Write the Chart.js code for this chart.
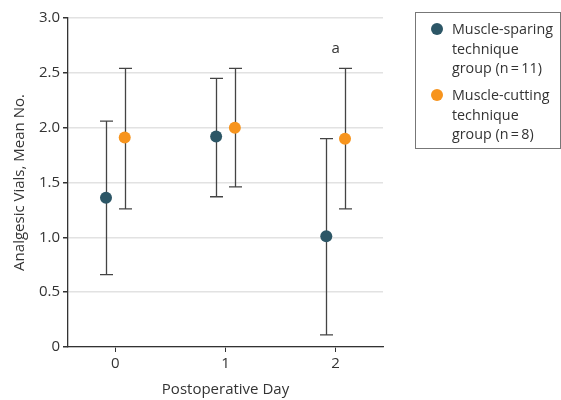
<!DOCTYPE html>
<html>
<head>
<meta charset="utf-8">
<script src="https://cdn.jsdelivr.net/npm/chart.js@4.4.1/dist/chart.umd.min.js"></script>
<style>
    html, body {
        margin: 0;
        padding: 0;
        background: #fff;
    }
    #wrap {
        position: relative;
        width: 561px;
        height: 400px;
        font-family: "Open Sans", sans-serif;
        color: #333;
    }
    #legend {
        position: absolute;
        left: 415px;
        top: 12px;
        width: 144px;
        height: 135px;
        border: 1px solid #777;
        font-size: 14.3px;
        line-height: 19.5px;
    }
    .item {
        position: absolute;
        left: 36px;
    }
    .dot {
        position: absolute;
        left: -21px;
        top: 4px;
        width: 12px;
        height: 12px;
        border-radius: 50%;
    }
</style>
</head>
<body>
<div id="wrap">
    <canvas id="chart" width="561" height="400"></canvas>
    <div id="legend"></div>
</div>

<script>
// ==========================
// DATA
// ==========================

const days = [0, 1, 2];
const seriesNames = [
    ["Muscle-sparing", "technique", "group (n\u2009=\u200911)"],
    ["Muscle-cutting", "technique", "group (n\u2009=\u20098)"]
];
const seriesColors = ["#2c5666", "#f7941d"];
const seriesOffsets = [-0.085, 0.085];

const sparingMean = [1.36, 1.92, 1.01];
const sparingLow = [0.66, 1.37, 0.11];
const sparingHigh = [2.06, 2.45, 1.90];

const cuttingMean = [1.91, 2.00, 1.90];
const cuttingLow = [1.26, 1.46, 1.26];
const cuttingHigh = [2.54, 2.54, 2.54];

const yTicks = [0, 0.5, 1.0, 1.5, 2.0, 2.5, 3.0];

const noteText = ["a"];
const noteDay = [2];
const noteValue = [2.72];

const means = [sparingMean, cuttingMean];
const lows = [sparingLow, cuttingLow];
const highs = [sparingHigh, cuttingHigh];

const FONT = "'Open Sans', sans-serif";


// ==========================
// PLUGINS
// ==========================

const errorBars = {
    id: "errorBars",
    beforeDatasetsDraw(chart) {
        const c = chart.ctx;
        const xs = chart.scales.x;
        const ys = chart.scales.y;
        c.save();
        c.strokeStyle = "#444";
        c.lineWidth = 1.3;
        means.forEach((m, s) => {
            m.forEach((v, i) => {
                const x = Math.round(xs.getPixelForValue(days[i] + seriesOffsets[s])) + 0.5;
                const y1 = ys.getPixelForValue(lows[s][i]);
                const y2 = ys.getPixelForValue(highs[s][i]);
                c.beginPath();
                c.moveTo(x, y1);
                c.lineTo(x, y2);
                c.moveTo(x - 6.5, y1);
                c.lineTo(x + 6.5, y1);
                c.moveTo(x - 6.5, y2);
                c.lineTo(x + 6.5, y2);
                c.stroke();
            });
        });
        c.restore();
    },
    afterDatasetsDraw(chart) {
        const c = chart.ctx;
        const xs = chart.scales.x;
        const ys = chart.scales.y;
        c.save();
        c.fillStyle = "#333";
        c.font = "15px " + FONT;
        c.textAlign = "center";
        c.textBaseline = "middle";
        noteText.forEach((t, i) => {
            c.fillText(t, xs.getPixelForValue(noteDay[i]), ys.getPixelForValue(noteValue[i]));
        });
        c.restore();
    }
};


// ==========================
// CHART
// ==========================

const datasets = means.map((m, s) => ({
    label: seriesNames[s].join(" "),
    data: m.map((v, i) => ({ x: days[i] + seriesOffsets[s], y: v })),
    backgroundColor: seriesColors[s],
    borderColor: seriesColors[s],
    pointRadius: 6,
    pointBorderWidth: 0,
    showLine: false
}));

new Chart(document.getElementById("chart"), {
    type: "scatter",
    data: { datasets: datasets },
    plugins: [errorBars],
    options: {
        responsive: false,
        animation: false,
        layout: {
            padding: { top: 18, right: 178, left: 0, bottom: 0 }
        },
        plugins: {
            legend: { display: false },
            tooltip: { enabled: false }
        },
        scales: {
            x: {
                type: "linear",
                min: -0.43,
                max: 2.43,
                afterBuildTicks: scale => {
                    scale.ticks = days.map(v => ({ value: v }));
                },
                afterFit: scale => {
                    scale.height = 53;
                },
                grid: {
                    drawOnChartArea: false,
                    drawTicks: true,
                    tickLength: 5,
                    tickColor: "#333"
                },
                border: { display: true, color: "#333", width: 1.3 },
                ticks: {
                    color: "#333",
                    font: { family: FONT, size: 15 },
                    padding: 3
                },
                title: {
                    display: true,
                    text: "Postoperative Day",
                    color: "#333",
                    font: { family: FONT, size: 15 },
                    padding: { top: 6, bottom: 1 }
                }
            },
            y: {
                min: 0,
                max: 3,
                afterBuildTicks: scale => {
                    scale.ticks = yTicks.map(v => ({ value: v }));
                },
                afterFit: scale => {
                    scale.width = 68;
                },
                grid: {
                    color: "#e2e2e2",
                    lineWidth: 1.5,
                    drawTicks: true,
                    tickLength: 5,
                    tickColor: "#333"
                },
                border: { display: true, color: "#333", width: 1.3 },
                ticks: {
                    color: "#333",
                    font: { family: FONT, size: 15 },
                    padding: 3,
                    callback: v => v === 0 ? "0" : v.toFixed(1)
                },
                title: {
                    display: true,
                    text: "Analgesic Vials, Mean No.",
                    color: "#333",
                    font: { family: FONT, size: 15 },
                    padding: { top: 11, bottom: 4 }
                }
            }
        }
    }
});


// ==========================
// LEGEND
// ==========================

const legend = document.getElementById("legend");
const itemTops = [6, 72];

seriesNames.forEach((lines, s) => {
    const item = document.createElement("div");
    item.className = "item";
    item.style.top = itemTops[s] + "px";
    const dot = document.createElement("span");
    dot.className = "dot";
    dot.style.background = seriesColors[s];
    item.appendChild(dot);
    lines.forEach(t => {
        const line = document.createElement("div");
        line.textContent = t;
        item.appendChild(line);
    });
    legend.appendChild(item);
});
</script>
</body>
</html>
